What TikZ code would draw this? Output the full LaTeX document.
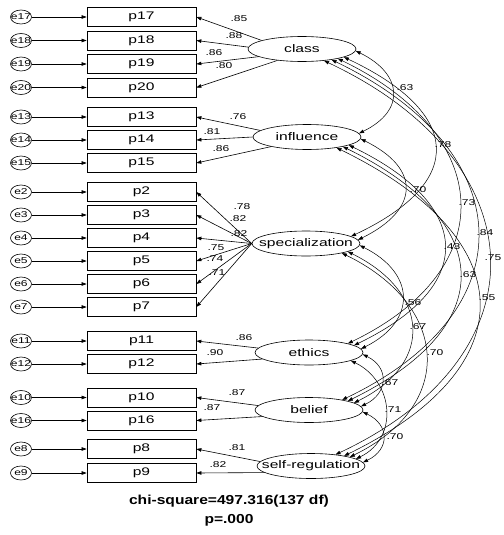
\documentclass[tikz,border=0pt]{standalone}
\usepackage{fontspec}
\setmainfont{Liberation Sans}
\usepackage{graphicx}
\usetikzlibrary{arrows.meta,shapes.geometric}
\newcommand{\wx}[1]{\scalebox{1.42}[1]{#1}}
\newcommand{\zw}[1]{\makebox[0pt]{\wx{#1}}}
\begin{document}
\begin{tikzpicture}[x=1pt,y=-1pt,
  ind/.style={draw, line width=0.7pt, minimum width=109pt, minimum height=19pt, inner sep=0pt, font=\fontsize{11}{13}\selectfont},
  fac/.style={draw, ellipse, line width=0.6pt, minimum width=108pt, minimum height=25pt, inner sep=0pt, font=\fontsize{11}{13}\selectfont},
  err/.style={draw, ellipse, line width=0.6pt, minimum width=21pt, minimum height=14pt, inner sep=0pt, font=\fontsize{8.5}{10}\selectfont},
  lab/.style={font=\fontsize{8.5}{10}\selectfont, inner sep=0pt},
  pth/.style={line width=0.6pt, -{Triangle[length=5pt,width=3.5pt]}},
  cov/.style={line width=0.5pt, {Triangle[length=5pt,width=3.5pt]}-{Triangle[length=5pt,width=3.5pt]}},
]
\useasboundingbox (0,0) rectangle (503,535);

% factors
\node[fac] (class) at (302,49) {\zw{class}};
\node[fac] (influence) at (307,137) {\zw{influence}};
\node[fac] (spec) at (306,243.5) {\zw{specialization}};
\node[fac] (ethics) at (309,352.5) {\zw{ethics}};
\node[fac] (belief) at (309,410) {\zw{belief}};
\node[fac] (selfreg) at (311,466) {\zw{self-regulation}};

% indicators and errors
\foreach \n/\y in {17/17,18/40.5,19/64,20/87.5,13/117,14/140,15/163,2/192,3/215,4/238,5/261,6/284,7/307,11/341,12/364,10/397.5,16/420.5,8/449,9/473}{
  \node[ind] (p\n) at (141.5,\y) {\wx{p\n}};
  \node[err] (e\n) at (21,\y) {\zw{e\n}};
  \draw[pth] (e\n) -- (p\n.west);
}

% loadings
\draw[pth] (class.168) -- (p17.east);
\draw[pth] (class.178) -- (p18.east);
\draw[pth] (class.190) -- (p19.east);
\draw[pth] (class.205) -- (p20.east);
\draw[pth] (influence.172) -- (p13.east);
\draw[pth] (influence.180) -- (p14.east);
\draw[pth] (influence.195) -- (p15.east);
\foreach \n in {2,3,4,5,6,7}{\draw[pth] (spec.west) -- (p\n.east);}
\draw[pth] (ethics.175) -- (p11.east);
\draw[pth] (ethics.188) -- (p12.east);
\draw[pth] (belief.175) -- (p10.east);
\draw[pth] (belief.188) -- (p16.east);
\draw[pth] (selfreg.175) -- (p8.east);
\draw[pth] (selfreg.188) -- (p9.east);

% loading labels
\node[lab] at (239,19) {\wx{.85}};
\node[lab] at (234,36) {\wx{.88}};
\node[lab] at (214,53) {\wx{.86}};
\node[lab] at (224,66) {\wx{.80}};
\node[lab] at (238,117) {\wx{.76}};
\node[lab] at (212,132) {\wx{.81}};
\node[lab] at (221,149) {\wx{.86}};
\node[lab] at (242,207) {\wx{.78}};
\node[lab] at (238,219) {\wx{.82}};
\node[lab] at (239,234) {\wx{.82}};
\node[lab] at (216,248) {\wx{.75}};
\node[lab] at (215,259) {\wx{.74}};
\node[lab] at (217,273) {\wx{.71}};
\node[lab] at (244,338) {\wx{.86}};
\node[lab] at (215,353) {\wx{.90}};
\node[lab] at (237,393) {\wx{.87}};
\node[lab] at (212,408) {\wx{.87}};
\node[lab] at (237,448) {\wx{.81}};
\node[lab] at (218,465) {\wx{.82}};

% covariances
\draw[cov] (class.-2) .. controls +(47,23) and +(47,-23) .. (influence.4);
\draw[cov] (influence.-2) .. controls +(61,30) and +(61,-30) .. (spec.4);
\draw[cov] (spec.-2) .. controls +(56,28) and +(56,-28) .. (ethics.4);
\draw[cov] (ethics.-2) .. controls +(27,13) and +(27,-13) .. (belief.4);
\draw[cov] (belief.-2) .. controls +(27,13) and +(27,-13) .. (selfreg.4);
\draw[cov] (class.-11) .. controls +(117,55) and +(117,-55) .. (spec.9);
\draw[cov] (influence.-11) .. controls +(124,60) and +(124,-60) .. (ethics.9);
\draw[cov] (spec.-11) .. controls +(81,40) and +(81,-40) .. (belief.9);
\draw[cov] (ethics.-11) .. controls +(43,21) and +(43,-21) .. (selfreg.9);
\draw[cov] (class.-15) .. controls +(156,75) and +(156,-75) .. (ethics.13);
\draw[cov] (influence.-15) .. controls +(153,75) and +(153,-75) .. (belief.13);
\draw[cov] (spec.-15) .. controls +(107,52) and +(107,-52) .. (selfreg.13);
\draw[cov] (class.-20) .. controls +(188,90) and +(188,-90) .. (belief.17);
\draw[cov] (influence.-20) .. controls +(185,90) and +(185,-90) .. (selfreg.17);
\draw[cov] (class.-28) .. controls +(213,100) and +(213,-100) .. (selfreg.25);

% covariance labels
\node[lab] at (405,88) {\wx{.63}};
\node[lab] at (443,145) {\wx{.78}};
\node[lab] at (418,190) {\wx{.70}};
\node[lab] at (467,203) {\wx{.73}};
\node[lab] at (485,233) {\wx{.84}};
\node[lab] at (493,258) {\wx{.75}};
\node[lab] at (452,247) {\wx{.43}};
\node[lab] at (468,275) {\wx{.63}};
\node[lab] at (487,298) {\wx{.55}};
\node[lab] at (413,303) {\wx{.56}};
\node[lab] at (418,327) {\wx{.67}};
\node[lab] at (435,353) {\wx{.70}};
\node[lab] at (390,383) {\wx{.67}};
\node[lab] at (393,410) {\wx{.71}};
\node[lab] at (395,437) {\wx{.70}};

% fit statistics
\node[font=\bfseries\fontsize{13}{15}\selectfont, inner sep=0pt] (chi) at (229,501) {\scalebox{1.2}[1]{chi-square=497.316(137 df)}};
\node[font=\bfseries\fontsize{13}{15}\selectfont, inner sep=0pt] (pval) at (229,520) {\scalebox{1.2}[1]{p=.000}};
\end{tikzpicture}
\end{document}
